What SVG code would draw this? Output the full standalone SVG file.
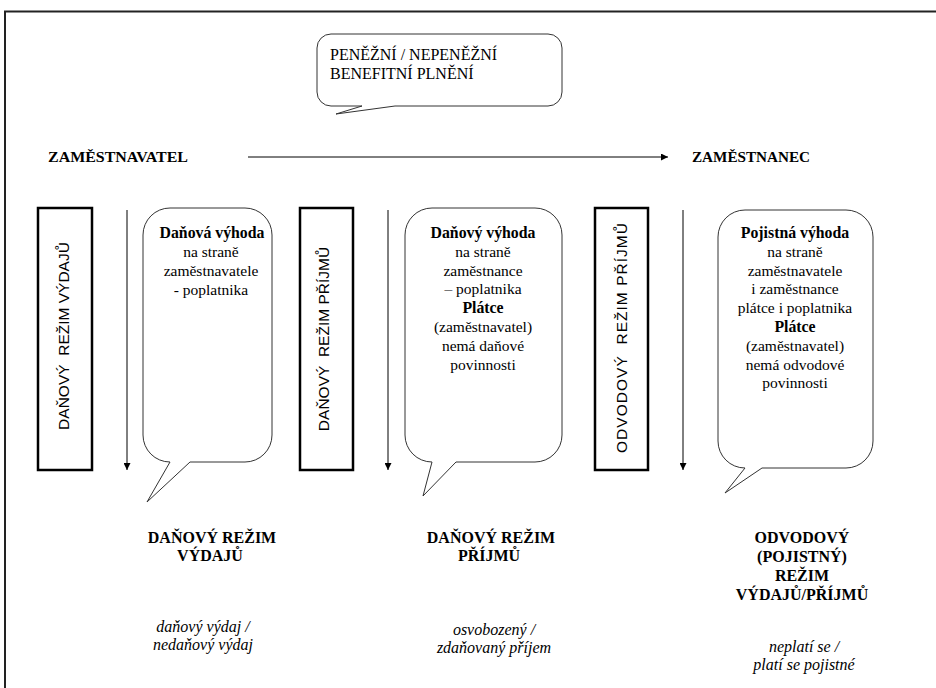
<svg xmlns="http://www.w3.org/2000/svg" width="936" height="688" viewBox="0 0 936 688">
<defs>
<marker id="ah" viewBox="0 0 10 10" refX="10" refY="5" markerWidth="7" markerHeight="7" markerUnits="userSpaceOnUse" orient="auto">
<path d="M0,0 L10,5 L0,10 Z" fill="#000"/>
</marker>
<style>
.t{font-family:'Times New Roman','Liberation Serif','DejaVu Serif',serif;font-size:15.5px;fill:#000;text-anchor:middle}
.b{font-weight:bold;font-size:15.8px}
.i{font-style:italic}
.lb{font-size:16px}
.hd{font-family:'Times New Roman','Liberation Serif','DejaVu Serif',serif;font-size:15px;font-weight:bold;fill:#000}
.v{font-family:'Liberation Sans',Arial,sans-serif;font-size:15.5px;fill:#000;text-anchor:middle;white-space:pre}
.box{fill:#fff;stroke:#000;stroke-width:2.5}
.bub{fill:#fff;stroke:#333;stroke-width:1}
.ln{stroke:#000;stroke-width:1;fill:none}
</style>
</defs>
<rect width="936" height="688" fill="#fff"/>
<g id="frame">
<path d="M5,688 V11.5 H936" fill="none" stroke="#222" stroke-width="2"/>
</g>

<g id="topcallout">
<path class="bub" d="M331,34 H548 A14,14 0 0 1 562,48 V92 A14,14 0 0 1 548,106 H395 L336,114 L362,106 H331 A14,14 0 0 1 317,92 V48 A14,14 0 0 1 331,34 Z" stroke-width="1.5"/>
<text class="t lb" style="text-anchor:start" x="330" y="60">PENĚŽNÍ / NEPENĚŽNÍ</text>
<text class="t lb" style="text-anchor:start" x="330" y="79">BENEFITNÍ PLNĚNÍ</text>
</g>

<g id="zamestnavatel"><text class="hd" x="48" y="162" textLength="140" lengthAdjust="spacingAndGlyphs">ZAMĚSTNAVATEL</text></g>
<g id="zamestnanec"><text class="hd" x="692" y="162" textLength="118" lengthAdjust="spacingAndGlyphs">ZAMĚSTNANEC</text></g>

<g id="connectors">
<line class="ln" x1="248" y1="157" x2="668" y2="157" marker-end="url(#ah)"/>
<line class="ln" x1="127" y1="210" x2="127" y2="470" marker-end="url(#ah)"/>
<line class="ln" x1="388" y1="210" x2="388" y2="470" marker-end="url(#ah)"/>
<line class="ln" x1="683" y1="210" x2="683" y2="470" marker-end="url(#ah)"/>
</g>

<g id="rezim1">
<rect class="box" x="38" y="208" width="54" height="262"/>
<text class="v" transform="translate(69,336) rotate(-90)" x="0" y="0">DAŇOVÝ  REŽIM VÝDAJŮ</text>
</g>
<g id="rezim2">
<rect class="box" x="300" y="208" width="53" height="262"/>
<text class="v" transform="translate(329,339) rotate(-90)" x="0" y="0">DAŇOVÝ  REŽIM PŘÍJMŮ</text>
</g>
<g id="rezim3">
<rect class="box" x="595" y="208" width="53" height="262"/>
<text class="v" transform="translate(627,338) rotate(-90)" x="0" y="0" textLength="230" lengthAdjust="spacing">ODVODOVÝ  REŽIM PŘÍJMŮ</text>
</g>

<g id="vyhoda1">
<path class="bub" d="M170,208 H245 A27,27 0 0 1 272,235 V435 A27,27 0 0 1 245,462 H190 L147,502 L170,462 A27,27 0 0 1 143,435 V235 A27,27 0 0 1 170,208 Z"/>
<text class="t b" x="212" y="238">Daňová výhoda</text>
<text class="t" x="211" y="257">na straně</text>
<text class="t" x="211" y="276">zaměstnavatele</text>
<text class="t" x="211" y="295">- poplatnika</text>
</g>

<g id="vyhoda2">
<path class="bub" d="M432,208 H535 A27,27 0 0 1 562,235 V435 A27,27 0 0 1 535,462 H456 L423,496 L432,462 A27,27 0 0 1 405,435 V235 A27,27 0 0 1 432,208 Z"/>
<text class="t b" x="483" y="238">Daňový výhoda</text>
<text class="t" x="483" y="256.8">na straně</text>
<text class="t" x="483" y="275.6">zaměstnance</text>
<text class="t" x="483" y="294.4">– poplatnika</text>
<text class="t b" x="483" y="313.2">Plátce</text>
<text class="t" x="483" y="332">(zaměstnavatel)</text>
<text class="t" x="483" y="350.8">nemá daňové</text>
<text class="t" x="483" y="369.6">povinnosti</text>
</g>

<g id="vyhoda3">
<path class="bub" d="M745,210 H846 A27,27 0 0 1 873,237 V441 A27,27 0 0 1 846,468 H762 L725,493 L745,468 A27,27 0 0 1 718,441 V237 A27,27 0 0 1 745,210 Z"/>
<text class="t b" x="795" y="238">Pojistná výhoda</text>
<text class="t" x="795" y="256.8">na straně</text>
<text class="t" x="795" y="275.6">zaměstnavatele</text>
<text class="t" x="795" y="294.4">i zaměstnance</text>
<text class="t" x="795" y="313.2">plátce i poplatnika</text>
<text class="t b" x="795" y="332">Plátce</text>
<text class="t" x="795" y="350.8">(zaměstnavatel)</text>
<text class="t" x="795" y="369.6">nemá odvodové</text>
<text class="t" x="795" y="388.4">povinnosti</text>
</g>

<g id="label1">
<text class="t b lb" x="212" y="543">DAŇOVÝ REŽIM</text>
<text class="t b lb" x="210" y="561">VÝDAJŮ</text>
<text class="t i lb" x="203" y="632">daňový výdaj /</text>
<text class="t i lb" x="203" y="650">nedaňový výdaj</text>
</g>
<g id="label2">
<text class="t b lb" x="491" y="543">DAŇOVÝ REŽIM</text>
<text class="t b lb" x="489" y="561">PŘÍJMŮ</text>
<text class="t i lb" x="494" y="635">osvobozený /</text>
<text class="t i lb" x="494" y="653">zdaňovaný příjem</text>
</g>
<g id="label3">
<text class="t b lb" x="802" y="543">ODVODOVÝ</text>
<text class="t b lb" x="802" y="562">(POJISTNÝ)</text>
<text class="t b lb" x="802" y="581">REŽIM</text>
<text class="t b lb" x="802" y="600">VÝDAJŮ/PŘÍJMŮ</text>
<text class="t i lb" x="804" y="652">neplatí se /</text>
<text class="t i lb" x="804" y="670">platí se pojistné</text>
</g>
</svg>
